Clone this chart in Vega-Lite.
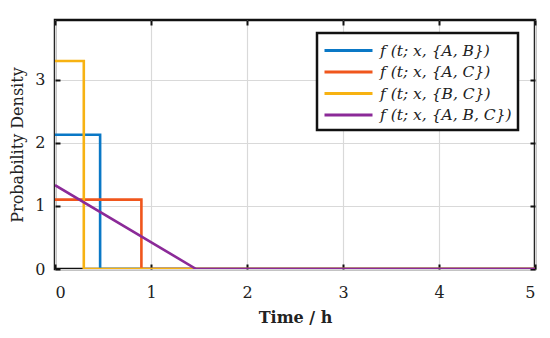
{
  "$schema": "https://vega.github.io/schema/vega-lite/v6.json",
  "width": 480,
  "height": 249,
  "autosize": {"type": "none"},
  "padding": {"left": 55, "top": 20, "right": 15, "bottom": 69},
  "background": "white",
  "config": {
    "view": {"stroke": "#111", "strokeWidth": 2.5},
    "font": "DejaVu Serif",
    "axis": {
      "domain": false,
      "gridColor": "#d9d9d9",
      "gridWidth": 1.2,
      "ticks": true,
      "tickColor": "#111",
      "tickSize": -5,
      "tickWidth": 2,
      "labelFont": "DejaVu Serif",
      "labelFontSize": 16,
      "labelColor": "#222",
      "titleFont": "DejaVu Serif",
      "titleFontSize": 16,
      "titleColor": "#222"
    }
  },
  "data": {
    "values": [
      {"s": "f (t; x, {A, B})", "o": 1, "t": 0, "y": 2.13},
      {"s": "f (t; x, {A, B})", "o": 2, "t": 0.47, "y": 2.13},
      {"s": "f (t; x, {A, B})", "o": 3, "t": 0.47, "y": 0},
      {"s": "f (t; x, {A, B})", "o": 4, "t": 5, "y": 0},
      {"s": "f (t; x, {A, C})", "o": 1, "t": 0, "y": 1.1},
      {"s": "f (t; x, {A, C})", "o": 2, "t": 0.9, "y": 1.1},
      {"s": "f (t; x, {A, C})", "o": 3, "t": 0.9, "y": 0},
      {"s": "f (t; x, {A, C})", "o": 4, "t": 5, "y": 0},
      {"s": "f (t; x, {B, C})", "o": 1, "t": 0, "y": 3.3},
      {"s": "f (t; x, {B, C})", "o": 2, "t": 0.3, "y": 3.3},
      {"s": "f (t; x, {B, C})", "o": 3, "t": 0.3, "y": 0},
      {"s": "f (t; x, {B, C})", "o": 4, "t": 5, "y": 0},
      {"s": "f (t; x, {A, B, C})", "o": 1, "t": 0, "y": 1.33},
      {"s": "f (t; x, {A, B, C})", "o": 2, "t": 1.47, "y": 0},
      {"s": "f (t; x, {A, B, C})", "o": 3, "t": 5, "y": 0}
    ]
  },
  "resolve": {"axis": {"x": "independent", "y": "independent"}},
  "layer": [
    {
      "mark": {"type": "line", "strokeWidth": 2.6, "clip": true},
      "encoding": {
        "x": {
          "field": "t",
          "type": "quantitative",
          "scale": {"domain": [0, 5], "nice": false},
          "axis": {"orient": "bottom", "grid": true, "ticks": true, "values": [0, 1, 2, 3, 4, 5], "title": "Time / h", "titleFontWeight": 600, "labelPadding": 20, "titlePadding": 9}
        },
        "y": {
          "field": "y",
          "type": "quantitative",
          "scale": {"domain": [0, 3.95], "nice": false, "zero": true},
          "axis": {"orient": "left", "grid": true, "ticks": true, "values": [0, 1, 2, 3], "title": "Probability Density", "titleFontWeight": "normal", "labelPadding": 15, "titlePadding": 9}
        },
        "order": {"field": "o"},
        "color": {
          "field": "s",
          "type": "nominal",
          "sort": null,
          "scale": {
            "domain": ["f (t; x, {A, B})", "f (t; x, {A, C})", "f (t; x, {B, C})", "f (t; x, {A, B, C})"],
            "range": ["#0A78C6", "#F0561C", "#F7B212", "#8B2A98"]
          },
          "legend": {
            "title": null,
            "orient": "none",
            "legendX": 262,
            "legendY": 13,
            "symbolType": "M-1,0H3.8",
            "symbolSize": 400,
            "symbolStrokeWidth": 3,
            "labelFont": "DejaVu Serif",
            "labelFontStyle": "italic",
            "labelFontSize": 15.5,
            "labelColor": "#222",
            "labelOffset": 34,
            "rowPadding": 1.5,
            "strokeColor": "#111",
            "fillColor": "white",
            "padding": 6,
            "labelLimit": 300,
            "encode": {"legend": {"update": {"strokeWidth": {"value": 2.5}}}}
          }
        }
      }
    },
    {
      "mark": {"type": "point", "opacity": 0},
      "encoding": {
        "x": {
          "field": "t",
          "type": "quantitative",
          "scale": {"domain": [0, 5], "nice": false},
          "axis": {"orient": "top", "ticks": true, "values": [0, 1, 2, 3, 4, 5], "labels": false, "grid": false, "title": null}
        },
        "y": {
          "field": "y",
          "type": "quantitative",
          "scale": {"domain": [0, 3.95], "nice": false, "zero": true},
          "axis": {"orient": "right", "ticks": true, "values": [0, 1, 2, 3], "labels": false, "grid": false, "title": null}
        }
      }
    }
  ]
}
